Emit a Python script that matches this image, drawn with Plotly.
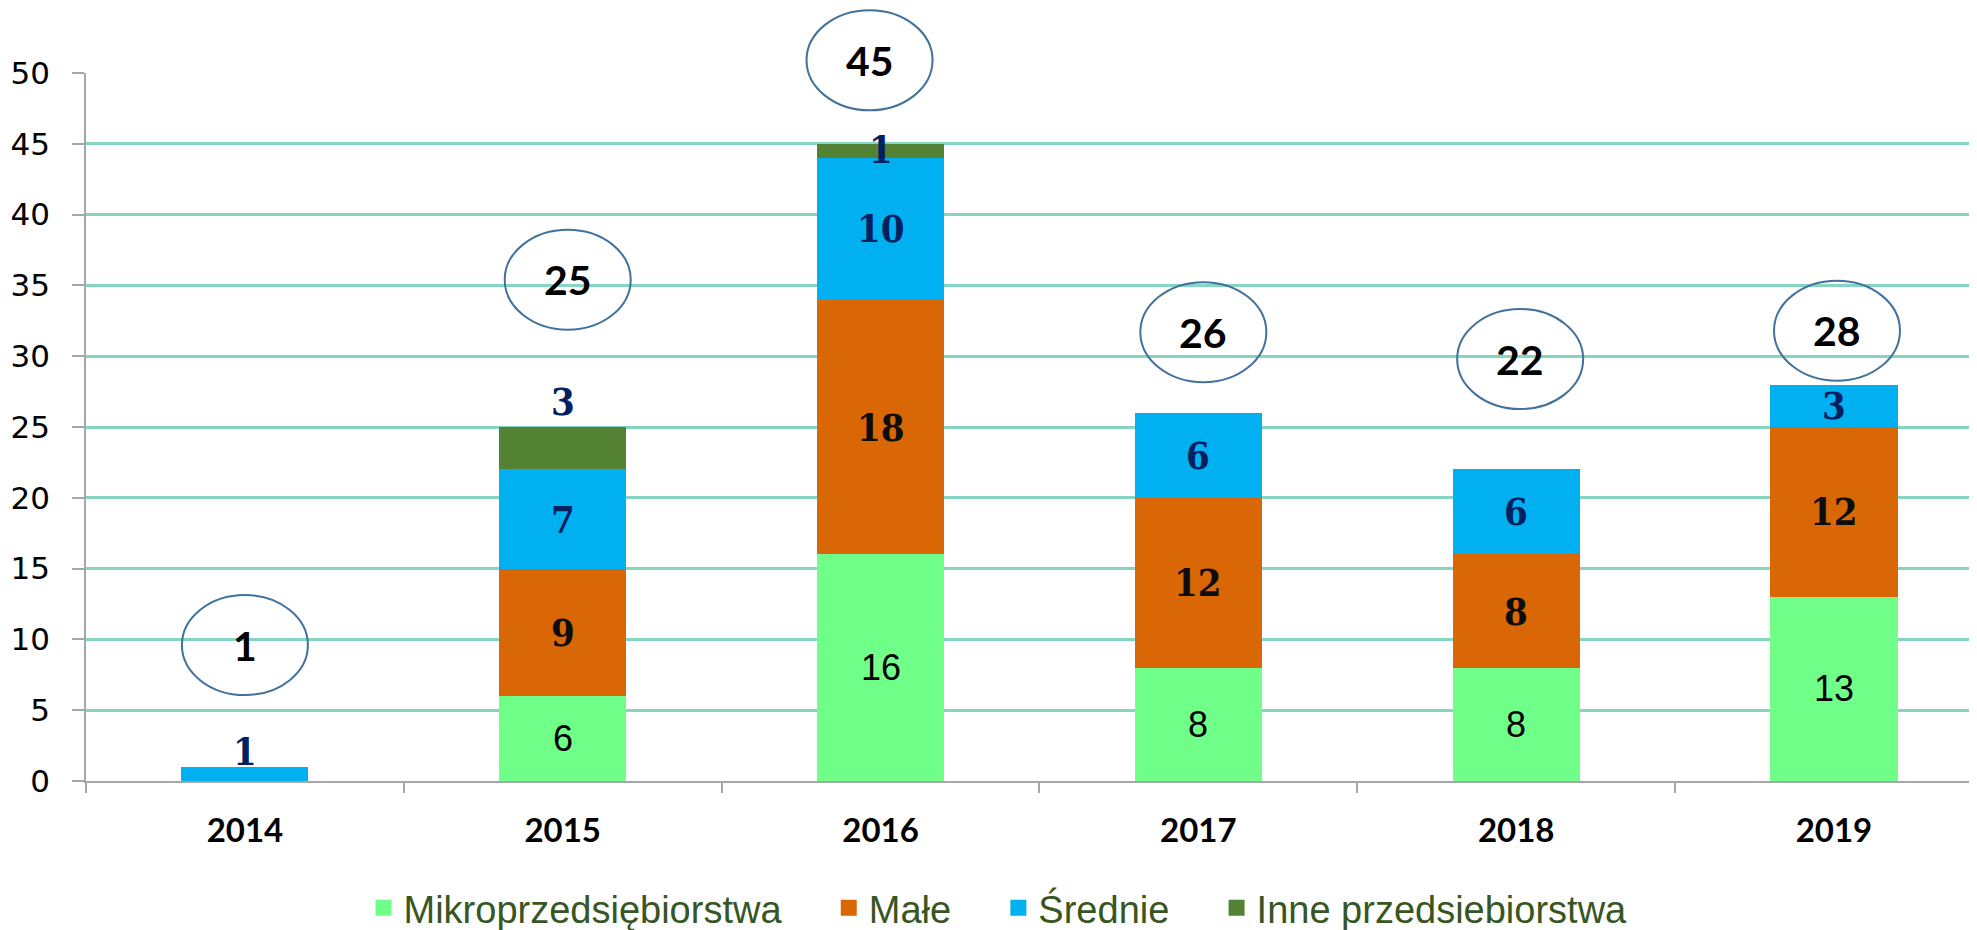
import plotly.graph_objects as go

# ---------------- data ----------------
years = ["2014", "2015", "2016", "2017", "2018", "2019"]
mikro = [0, 6, 16, 8, 8, 13]
male = [0, 9, 18, 12, 8, 12]
srednie = [1, 7, 10, 6, 6, 3]
inne = [0, 3, 1, 0, 0, 0]
series_names = ["Mikroprzedsiębiorstwa", "Małe", "Średnie", "Inne przedsiebiorstwa"]
y_ticks = [0, 5, 10, 15, 20, 25, 30, 35, 40, 45, 50]

# ---------------- styles ----------------
colors = ["#70FF88", "#D96706", "#00B0F0", "#548235"]
SERIF = "DejaVu Serif Condensed, DejaVu Serif"
label_fonts = [
    dict(family="Liberation Sans", size=36, color="#000000"),
    dict(family=SERIF, size=38, color="#0d0d0d", weight="bold"),
    dict(family=SERIF, size=38, color="#002060", weight="bold"),
    dict(family=SERIF, size=38, color="#002060", weight="bold"),
]
# vertical nudges (in axis units) for labels that sit outside their segment
label_nudge = {(2, 0): 1.55, (3, 1): 3.3, (3, 2): 0.1}
# position of the total ellipses relative to the bar tops
ellipse_offset = [8.6, 10.4, 5.9, 5.7, 7.8, 3.8]
ellipse_dx = [0, 5, -11, 5, 4, 3]
ellipse_w, ellipse_h = 126, 100
legend_pad = "\u00a0\u00a0\u00a0\u00a0"

W, H = 1969, 922          # page adds an 8px body margin
XMIN, XMAX = -0.5, 5.45
YMIN, YMAX = 0, 50
PLOT_W = W - 78


def xp(i):
    return (i - XMIN) / (XMAX - XMIN)


def yp(v):
    return (v - YMIN) / (YMAX - YMIN)


all_series = [mikro, male, srednie, inne]
totals = [sum(v) for v in zip(*all_series)]

fig = go.Figure()
for name, vals, col in zip(series_names, all_series, colors):
    fig.add_trace(go.Bar(
        x=years, y=vals, name=name, showlegend=False,
        marker=dict(color=col, line=dict(width=0)),
        hovertemplate=name + ": %{y}<extra></extra>",
    ))
# legend entries (square swatches)
for k, (name, col) in enumerate(zip(series_names, colors)):
    fig.add_trace(go.Scatter(
        x=[None], y=[None], mode="markers",
        name=name + (legend_pad if k < len(series_names) - 1 else ""),
        marker=dict(symbol="square", size=16, color=col, line=dict(width=0)),
    ))

annotations = []
for s, vals in enumerate(all_series):
    base = [sum(all_series[k][i] for k in range(s)) for i in range(len(years))]
    for i, v in enumerate(vals):
        if v == 0:
            continue
        yc = base[i] + v / 2 + label_nudge.get((s, i), 0)
        annotations.append(dict(
            x=xp(i), y=yp(yc), xref="paper", yref="paper", text=str(v),
            showarrow=False, font=label_fonts[s],
            xanchor="center", yanchor="middle",
        ))

shapes = []
for i, t in enumerate(totals):
    ex, ey = xp(i) + ellipse_dx[i] / PLOT_W, yp(t + ellipse_offset[i])
    shapes.append(dict(
        type="circle", xref="paper", yref="paper",
        xsizemode="pixel", ysizemode="pixel", xanchor=ex, yanchor=ey,
        x0=-ellipse_w / 2, x1=ellipse_w / 2, y0=-ellipse_h / 2, y1=ellipse_h / 2,
        line=dict(color="#41719C", width=2), fillcolor="rgba(0,0,0,0)",
        layer="above",
    ))
    annotations.append(dict(
        x=ex, y=ey, xref="paper", yref="paper", text=str(t),
        showarrow=False, font=dict(family="Lato", size=41, color="#000000", weight="bold"),
        xanchor="center", yanchor="middle",
    ))

fig.update_layout(
    width=W, height=H,
    margin=dict(l=78, r=0, t=65, b=149, autoexpand=False),
    paper_bgcolor="white", plot_bgcolor="white",
    barmode="stack", bargap=0.6,
    showlegend=True,
    legend=dict(
        orientation="h", xref="container", yref="container",
        x=990 / W, xanchor="center", y=1 - 900 / H, yanchor="middle",
        font=dict(family="Liberation Sans", size=38, color="#375623"),
        traceorder="normal", itemsizing="trace",
        itemclick=False, itemdoubleclick=False,
    ),
    xaxis=dict(
        type="category", range=[XMIN, XMAX], tickson="boundaries",
        ticks="outside", ticklen=10, tickcolor="#A6A6A6", tickwidth=1.5,
        showline=True, linecolor="#A6A6A6", linewidth=1.5,
        showgrid=False, automargin=False,
        tickfont=dict(family="Lato", size=33, color="#000000", weight="bold"),
        ticklabelstandoff=20,
    ),
    yaxis=dict(
        range=[YMIN, YMAX], tickvals=y_ticks,
        ticks="outside", ticklen=12, tickcolor="#A6A6A6", tickwidth=1.5,
        showline=True, linecolor="#A6A6A6", linewidth=1.5,
        showgrid=True, gridcolor="#86D4C2", gridwidth=2.5,
        zeroline=False, automargin=False,
        tickfont=dict(family="DejaVu Sans", size=31, color="#000000"),
        ticklabelstandoff=16,
    ),
    shapes=shapes,
    annotations=annotations,
)

fig.write_html("out.html")
